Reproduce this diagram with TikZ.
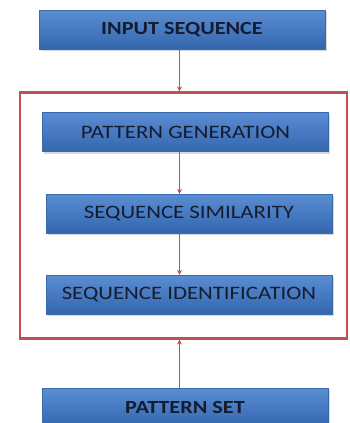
\documentclass[tikz,border=0pt]{standalone}
\usepackage{fontspec}
\setmainfont{Carlito}
\newfontfamily\boxfont[FakeStretch=1.2]{Carlito}
\usetikzlibrary{arrows.meta}
\usetikzlibrary{shadows}
\definecolor{boxtop}{HTML}{5B8DD3}
\definecolor{boxbot}{HTML}{3466AE}
\definecolor{boxline}{HTML}{3A6AAE}
\definecolor{framered}{HTML}{C0504D}
\definecolor{navy}{HTML}{141C30}

\begin{document}
\begin{tikzpicture}[x=1pt,y=-1pt,
  stage/.style={draw=boxline, top color=boxtop, bottom color=boxbot,
    minimum width=286pt, minimum height=39pt, inner sep=0pt, text=navy,
    font=\boxfont\fontsize{19}{19}\selectfont,
    drop shadow={shadow xshift=1.5pt, shadow yshift=-2pt, opacity=0.3}},
  ends/.style={stage, font=\boxfont\fontsize{18.5}{19}\selectfont\bfseries},
  link/.style={framered, line width=1pt, -{Stealth[length=5pt,width=5pt]}}]
\useasboundingbox[fill=white](0,0) rectangle (349,423);

%boxes
\node[ends](input)at(182,29.5){INPUT SEQUENCE};
\node[stage](pgen)at(185.5,132){PATTERN GENERATION};
\node[stage](ssim)at(189,213.5){SEQUENCE SIMILARITY};
\node[stage](sid)at(189,294.5){SEQUENCE IDENTIFICATION};
\node[ends](pset)at(185,407.5){PATTERN SET};

%frame
\node[draw=framered,line width=2.2pt,minimum width=327pt,minimum height=246pt,
  inner sep=0pt](frame)at(183.5,215.5){};
\coordinate(spine)at(179.5,0);

%arrows
\draw[link](input.south -| spine)--(frame.north -| spine);
\draw[link](pgen.south -| spine)--(ssim.north -| spine);
\draw[link](ssim.south -| spine)--(sid.north -| spine);
\draw[link](pset.north -| spine)--(frame.south -| spine);
\end{tikzpicture}
\end{document}
